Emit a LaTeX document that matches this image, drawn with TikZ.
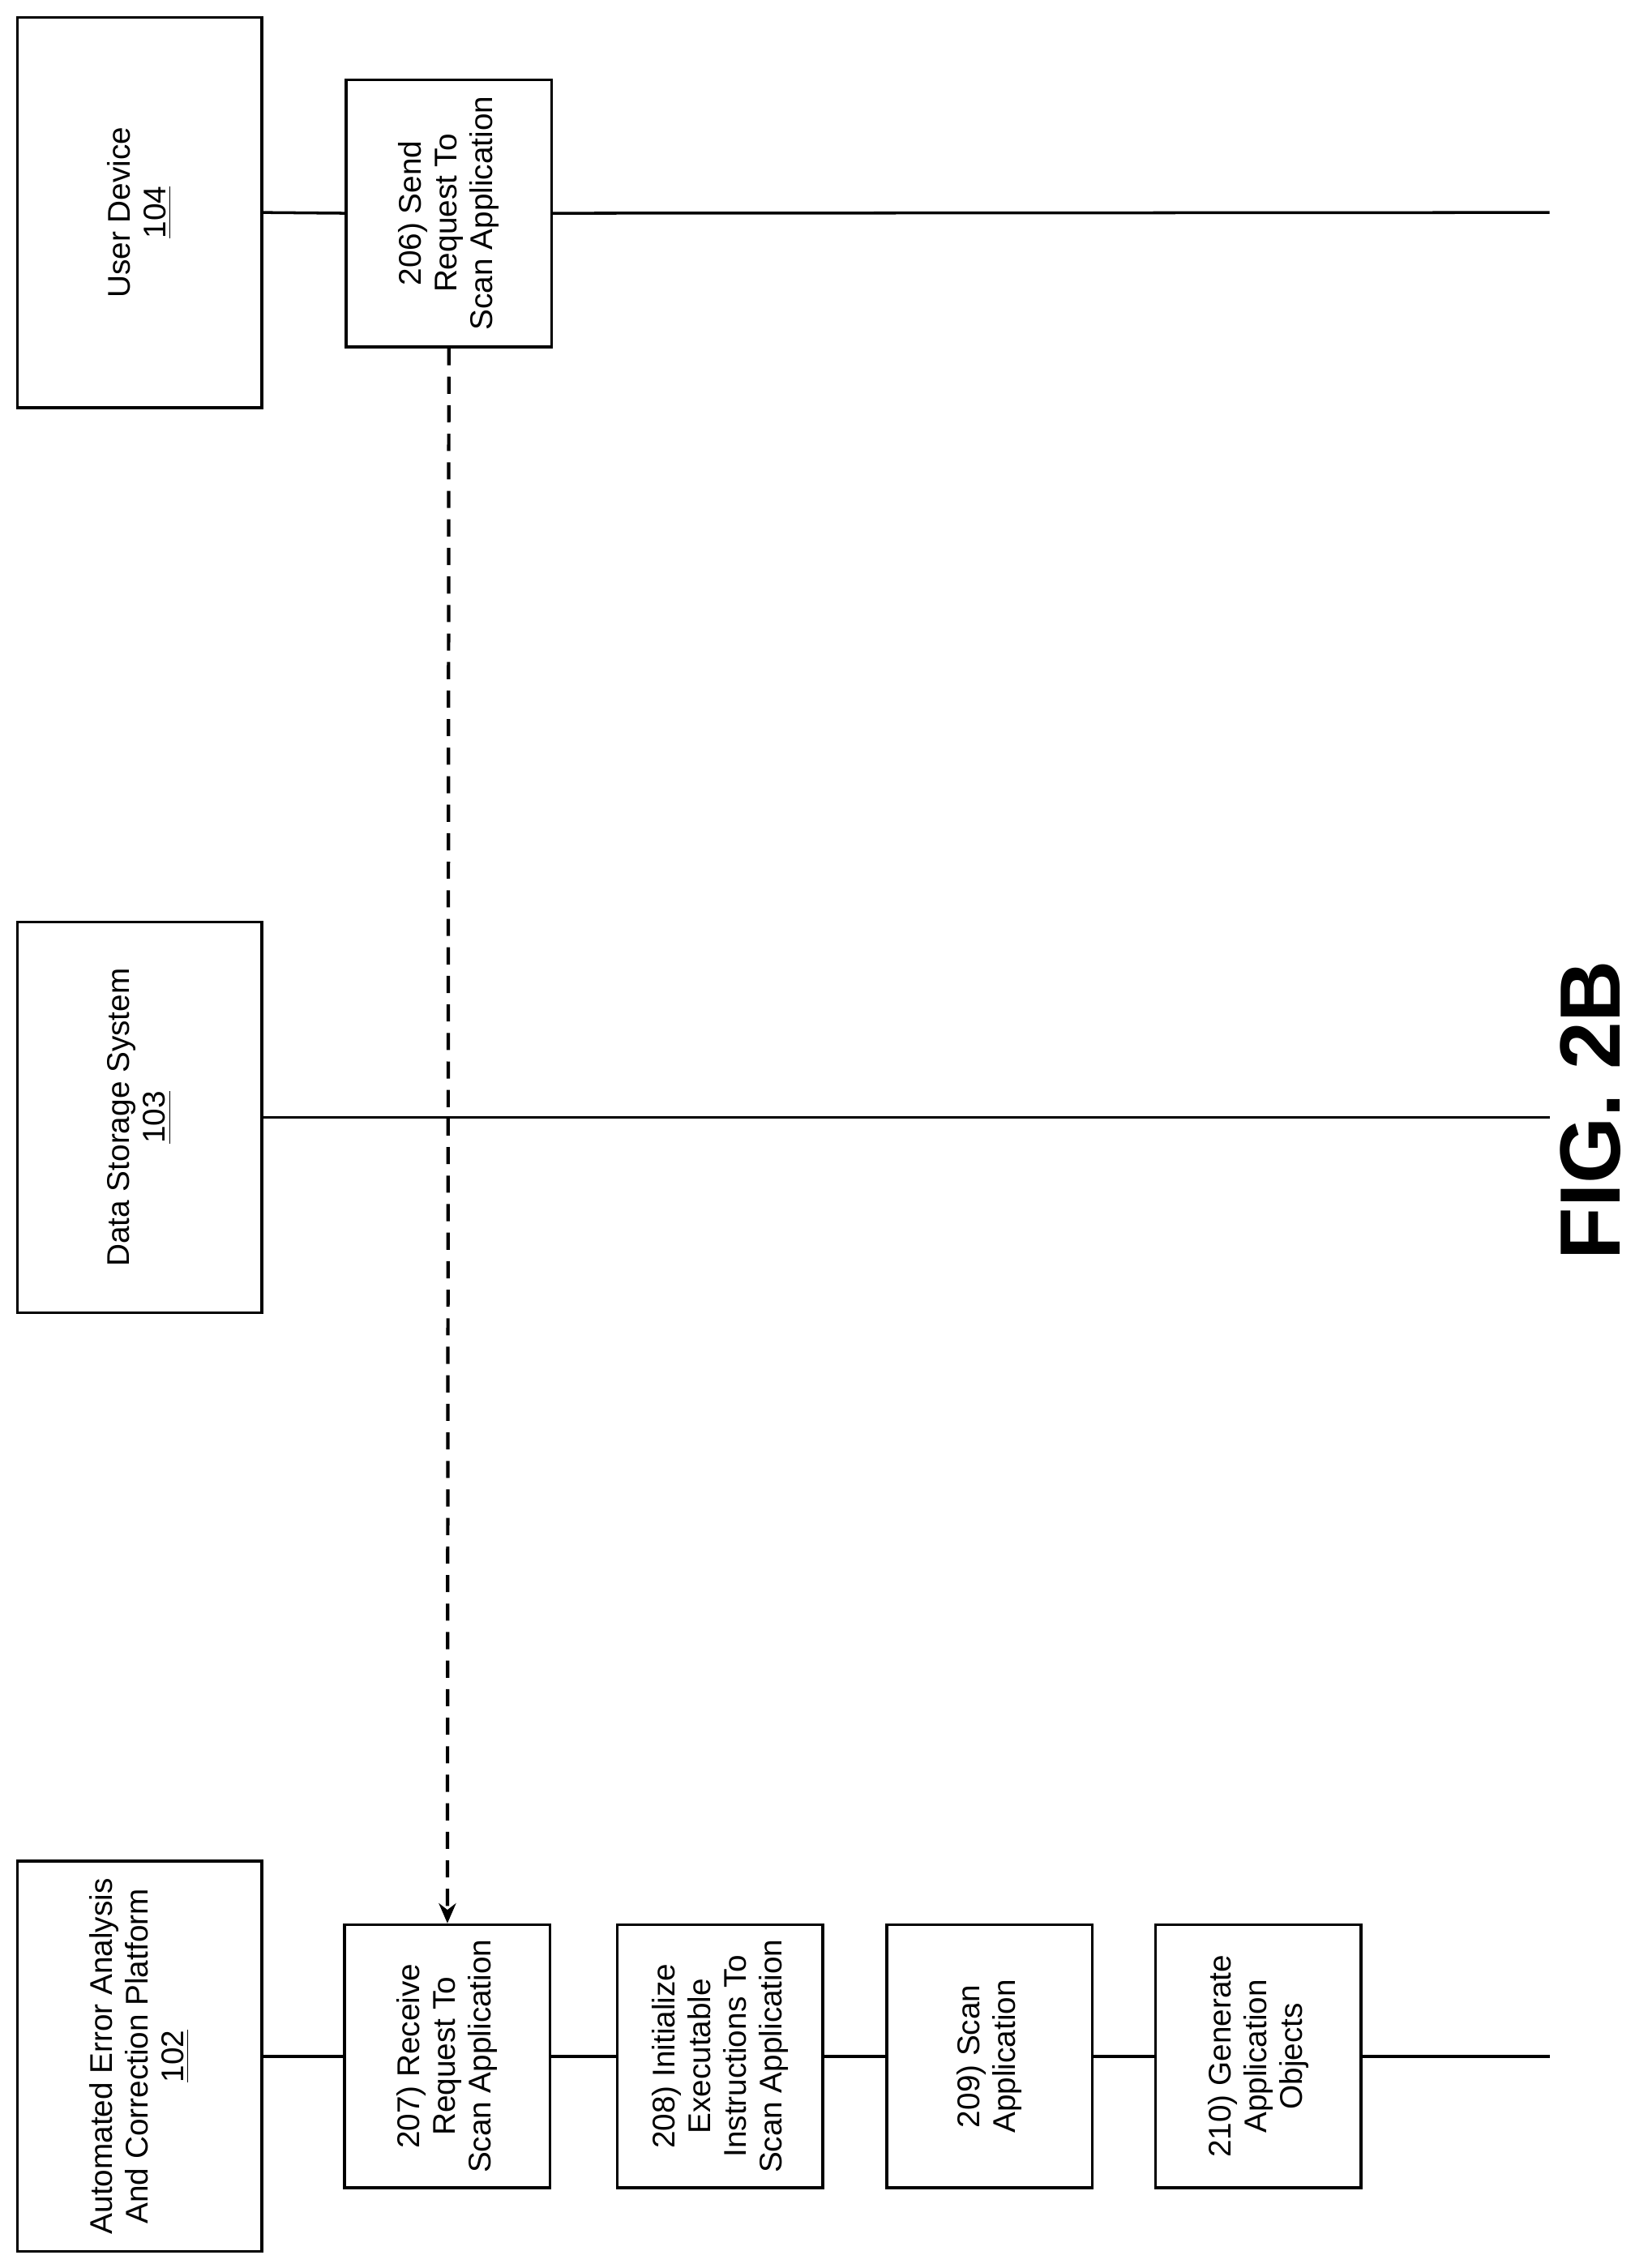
\documentclass[tikz,border=0pt]{standalone}
\usepackage{fontspec}
\setmainfont{Liberation Sans}
\usetikzlibrary{arrows.meta, positioning}

\begin{document}
\begin{tikzpicture}[
  x=0.0178cm, y=-0.0178cm,
  entity/.style={draw, line width=1pt, rotate=90, align=center,
                 minimum width=4.81cm, minimum height=3.01cm,
                 font=\fontsize{11}{12.5}\selectfont},
  stepbox/.style={draw, line width=1pt, rotate=90, align=center,
                  minimum width=3.24cm, minimum height=2.53cm, inner sep=1pt,
                  font=\fontsize{11}{12.5}\selectfont},
  life/.style={line width=1pt},
  msg/.style={line width=1.2pt, dashed, dash pattern=on 6pt off 4pt,
              -{Stealth[length=7pt, width=6pt]}}
]
  \useasboundingbox (0,0) rectangle (1131,1569);

  % Entities
  \node[entity] (ud) at (96.5,147) {User Device\\\underline{104}};
  \node[entity] (ds) at (96.5,773) {Data Storage System\\\underline{103}};
  \node[entity] (pf) at (96.5,1422.5)
    {Automated Error Analysis\\And Correction Platform\\\underline{102}};

  % Steps
  \node[stepbox, minimum width=3.29cm] (s206) at (310.5,147.5)
    {206) Send\\Request To\\Scan Application};
  \node[stepbox] (s207) at (309.5,1422.5)
    {207) Receive\\Request To\\Scan Application};
  \node[stepbox] (s208) at (498,1422.5)
    {208) Initialize\\Executable\\Instructions To\\Scan Application};
  \node[stepbox] (s209) at (684.5,1422.5) {209) Scan\\Application};
  \node[stepbox] (s210) at (870.5,1422.5)
    {210) Generate\\Application\\Objects};

  % Lifeline ends
  \coordinate (udend) at (1072,147);
  \coordinate (dsend) at (1072,773);
  \coordinate (pfend) at (1072,1422.5);

  % Lifelines
  \draw[life] (ud.south) -- (s206.north);
  \draw[life] (s206.south) -- (udend);
  \draw[life] (ds.south) -- (dsend);
  \draw[life] (pf.south) -- (s207.north);
  \draw[life] (s207.south) -- (s208.north);
  \draw[life] (s208.south) -- (s209.north);
  \draw[life] (s209.south) -- (s210.north);
  \draw[life] (s210.south) -- (pfend);

  % Message
  \draw[msg] (s206.west) -- (s207.east);

  % Caption
  \node[rotate=90, font=\fontsize{30}{32}\selectfont\bfseries] (fig) at (1100,768) {FIG. 2B};
\end{tikzpicture}
\end{document}
